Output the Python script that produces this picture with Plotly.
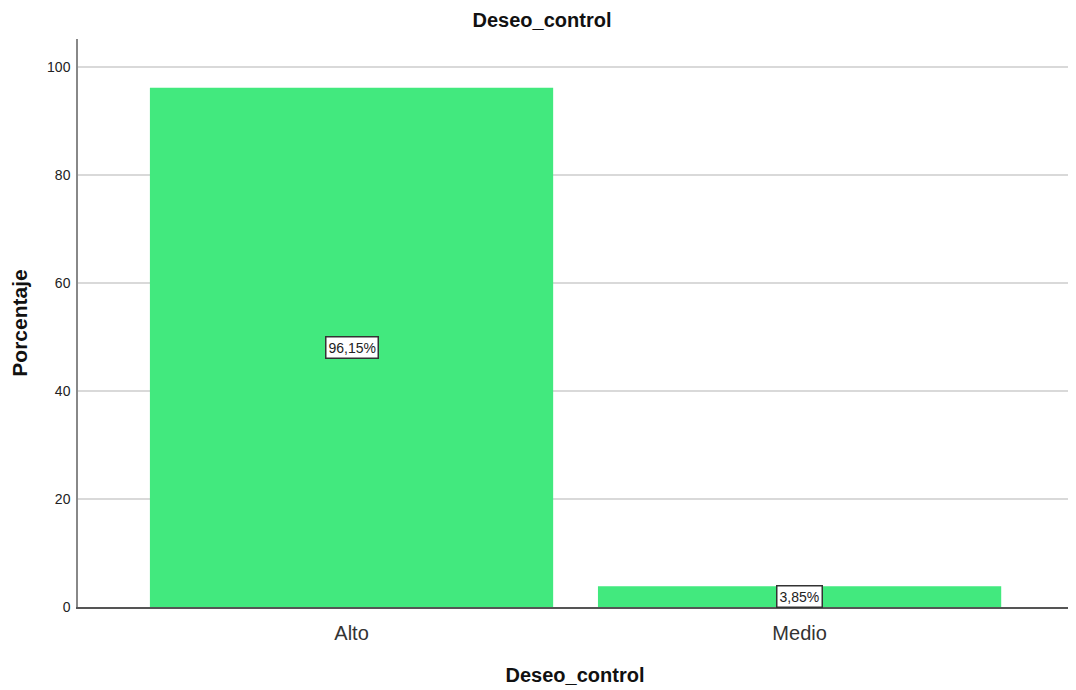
import plotly.graph_objects as go

categories = ["Alto", "Medio"]
values = [96.15, 3.85]
labels = ["96,15%", "3,85%"]
y_ticks = [0, 20, 40, 60, 80, 100]

fig = go.Figure()
fig.add_trace(go.Bar(
    x=categories, y=values,
    marker=dict(color="#42E97E", line=dict(width=0)),
    width=0.9,
    hoverinfo="skip",
))

for c, v, t in zip(categories, values, labels):
    fig.add_annotation(
        x=c, y=v / 2, text=t, showarrow=False,
        font=dict(family="Liberation Sans, Arial", size=14, color="#222"),
        bgcolor="white", bordercolor="#333", borderwidth=1.5, borderpad=2,
    )

# body margin of the page shifts the figure by 8px; compensate with size/margins
fig.update_layout(
    width=1068, height=682,
    margin=dict(l=70, r=4, t=31, b=83),
    paper_bgcolor="white", plot_bgcolor="white",
    showlegend=False,
    title=dict(text="<b>Deseo_control</b>", x=0.5, xanchor="center", y=0.982, yanchor="middle",
               font=dict(family="Liberation Sans, Arial", size=20, color="#111")),
    font=dict(family="Liberation Sans, Arial", color="#222"),
    bargap=0.1,
)
fig.update_xaxes(
    range=[-0.6105, 1.608],
    showline=True, linecolor="#555", linewidth=1.5,
    ticks="outside", ticklen=7, tickcolor="rgba(0,0,0,0)",
    tickfont=dict(size=20, color="#333"),
    title=dict(text="<b>Deseo_control</b>", font=dict(size=20, color="#111"), standoff=25),
    showgrid=False,
)
fig.update_yaxes(
    range=[0, 105.2], tickvals=y_ticks,
    showline=True, linecolor="#888", linewidth=1.5,
    showgrid=True, gridcolor="#d9d9d9", gridwidth=1.5,
    ticks="outside", ticklen=3, tickcolor="rgba(0,0,0,0)",
    tickfont=dict(size=14, color="#222"),
    zeroline=False,
    title=dict(text="<b>Porcentaje</b>", font=dict(size=21, color="#111"), standoff=15),
)

fig.write_html("out.html")
